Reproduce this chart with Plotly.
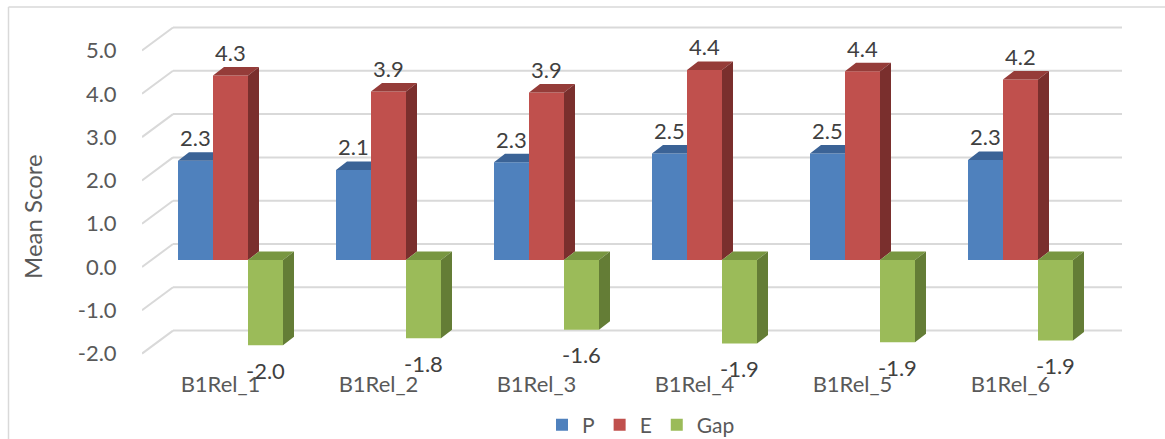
import plotly.graph_objects as go

categories = ["B1Rel_1", "B1Rel_2", "B1Rel_3", "B1Rel_4", "B1Rel_5", "B1Rel_6"]
p_values = [2.29, 2.08, 2.26, 2.46, 2.46, 2.31]
e_values = [4.26, 3.89, 3.87, 4.39, 4.36, 4.17]
gap_values = [-1.97, -1.81, -1.61, -1.93, -1.90, -1.86]
y_ticks = [-2, -1, 0, 1, 2, 3, 4, 5]
series_names = ["P", "E", "Gap"]

W, H = 1165, 439
L_PX, R_PX, T_PX, B_PX = 142, 1122, 20, 360
PX_PER_CAT = 158.0
PX_PER_UNIT = 43.3
ZERO_PX = 260.0
FIRST_CAT_PX = 230.5

x_range = [(L_PX - FIRST_CAT_PX) / PX_PER_CAT, (R_PX - FIRST_CAT_PX) / PX_PER_CAT]
y_range = [(ZERO_PX - B_PX) / PX_PER_UNIT, (ZERO_PX - T_PX) / PX_PER_UNIT]

bw = 35 / PX_PER_CAT           # bar width in category units
dx = 11 / PX_PER_CAT           # bar depth (x)
dy = 8.5 / PX_PER_UNIT         # bar depth (y)
gdy = 16 / PX_PER_UNIT         # back wall offset (y)
fdy = 23 / PX_PER_UNIT         # floor front drop
label_shift = gdy - fdy        # tick labels sit at front of floor

front = ["#4F81BD", "#C0504D", "#9BBB59"]
top_c = ["#3B6396", "#953C39", "#789641"]
side_c = ["#2F4F78", "#7A2F2D", "#647D36"]
text_col = "#595959"
FONT = "Lato"

xs = list(range(len(categories)))
offsets = [-1.5 * bw, -0.5 * bw, 0.5 * bw]
data = [p_values, e_values, gap_values]

fig = go.Figure()

for i, (name, vals) in enumerate(zip(series_names, data)):
    fig.add_trace(go.Bar(
        x=xs, y=vals, name=name, width=bw, offset=offsets[i],
        marker=dict(color=front[i], line=dict(width=0)),
        hoverinfo="skip",
    ))

def poly_trace(polys, color):
    px, py = [], []
    for pts in polys:
        for (a, b) in pts:
            px.append(a); py.append(b)
        px.append(pts[0][0]); py.append(pts[0][1])
        px.append(None); py.append(None)
    return go.Scatter(x=px, y=py, mode="lines", fill="toself", fillcolor=color,
                      line=dict(width=0, color=color), showlegend=False,
                      hoverinfo="skip")

blue_top, red_top, red_side, green_top, green_side = [], [], [], [], []
for c, p, e, g in zip(xs, p_values, e_values, gap_values):
    b0 = c + offsets[0]; b1 = b0 + bw
    r0 = c + offsets[1]; r1 = r0 + bw
    g0 = c + offsets[2]; g1 = g0 + bw
    blue_top.append([(b0, p), (b1, p), (b1, p + dy), (b0 + dx, p + dy)])
    red_top.append([(r0, e), (r1, e), (r1 + dx, e + dy), (r0 + dx, e + dy)])
    red_side.append([(r1, e), (r1 + dx, e + dy), (r1 + dx, dy), (r1, 0)])
    green_top.append([(g0, 0), (g1, 0), (g1 + dx, dy), (g0 + dx, dy)])
    green_side.append([(g1, 0), (g1 + dx, dy), (g1 + dx, g + dy), (g1, g)])

fig.add_trace(poly_trace(blue_top, top_c[0]))
fig.add_trace(poly_trace(red_top, top_c[1]))
fig.add_trace(poly_trace(red_side, side_c[1]))
fig.add_trace(poly_trace(green_top, top_c[2]))
fig.add_trace(poly_trace(green_side, side_c[2]))

# back-wall gridlines and floor diagonals
shapes = []
for v in y_ticks:
    yb = v + gdy
    shapes.append(dict(type="line", xref="x", yref="y", layer="below",
                       x0=x_range[0] + 31 / PX_PER_CAT, x1=x_range[1], y0=yb, y1=yb,
                       line=dict(color="#D9D9D9", width=2)))
    shapes.append(dict(type="line", xref="x", yref="y", layer="below",
                       x0=x_range[0], x1=x_range[0] + 31 / PX_PER_CAT, y0=v + label_shift, y1=yb,
                       line=dict(color="#D9D9D9", width=2)))

pw = R_PX - L_PX
ph = B_PX - T_PX
def px_x(p): return (p - L_PX) / pw
def px_y(p): return (B_PX - p) / ph

# chart border (left and top)
shapes.append(dict(type="line", xref="paper", yref="paper",
                   x0=px_x(8.5), x1=px_x(8.5), y0=px_y(7), y1=px_y(H + 5),
                   line=dict(color="#D9D9D9", width=1.5)))
shapes.append(dict(type="line", xref="paper", yref="paper",
                   x0=px_x(8.5), x1=px_x(W + 5), y0=px_y(7), y1=px_y(7),
                   line=dict(color="#D9D9D9", width=1.5)))

annotations = []
for i, vals in enumerate(data):
    for c, v in zip(xs, vals):
        annotations.append(dict(
            x=c + offsets[i] + bw / 2, y=v, xref="x", yref="y",
            text=f"{v:.1f}", showarrow=False,
            yshift=23 if v >= 0 else -25,
            font=dict(family=FONT, size=22, color="#404040"),
        ))

annotations.append(dict(
    text="Mean Score", textangle=-90, showarrow=False,
    xref="paper", yref="paper", x=px_x(33), y=px_y(217),
    xanchor="center", yanchor="middle",
    font=dict(family=FONT, size=24, color=text_col),
))

fig.update_layout(
    width=W, height=H,
    margin=dict(l=L_PX, r=W - R_PX, t=T_PX, b=H - B_PX, autoexpand=False),
    paper_bgcolor="white", plot_bgcolor="white",
    barmode="overlay",
    showlegend=True,
    legend=dict(orientation="h", x=px_x(641), xanchor="center",
                y=px_y(425), yanchor="middle",
                font=dict(family=FONT, size=21, color=text_col),
                traceorder="normal", itemclick=False),
    xaxis=dict(range=x_range, tickvals=xs, ticktext=categories,
               showgrid=False, zeroline=False, showline=False,
               ticks="outside", ticklen=5, tickcolor="rgba(0,0,0,0)",
               ticklabelshift=-10,
               tickfont=dict(family=FONT, size=22, color=text_col)),
    yaxis=dict(range=y_range, visible=False, showgrid=False, zeroline=False),
    yaxis2=dict(range=[y_range[0] - label_shift, y_range[1] - label_shift],
                overlaying="y", side="left", showgrid=False, zeroline=False,
                showline=False, tickvals=y_ticks,
                ticktext=[f"{t:.1f}" for t in y_ticks],
                ticks="outside", ticklen=20, tickcolor="rgba(0,0,0,0)",
                tickfont=dict(family=FONT, size=22, color=text_col)),
    shapes=shapes,
    annotations=annotations,
    font=dict(family=FONT),
)

# dummy trace to activate yaxis2 tick labels
fig.add_trace(go.Scatter(x=[None], y=[None], yaxis="y2", showlegend=False, hoverinfo="skip"))

fig.write_html("out.html")
